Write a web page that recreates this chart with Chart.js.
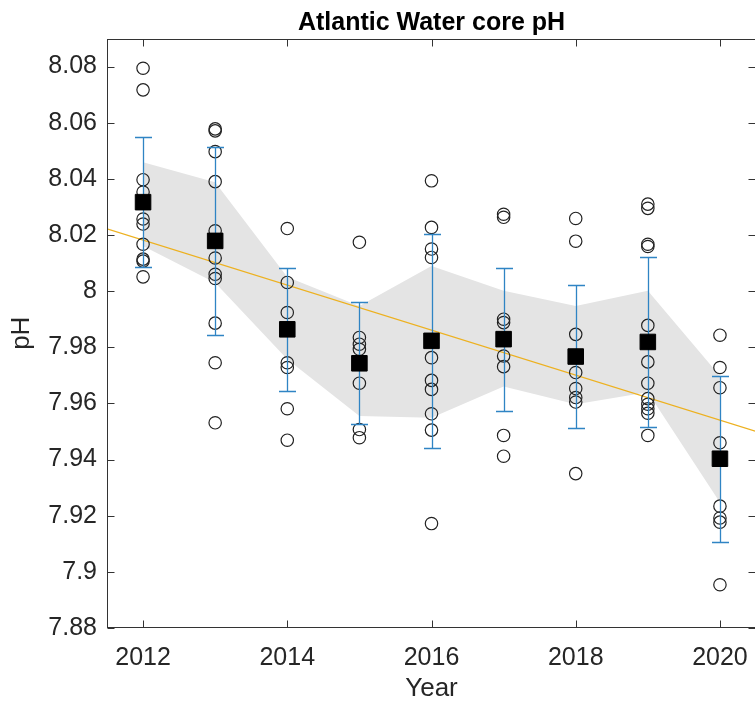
<!DOCTYPE html>
<html>
<head>
<meta charset="utf-8">
<script src="https://cdn.jsdelivr.net/npm/chart.js@4.4.1/dist/chart.umd.min.js"></script>
<style>
html, body { margin: 0; padding: 0; overflow: hidden; background: #fff; }
#wrap { width: 768px; height: 706px; position: relative; }
</style>
</head>
<body>
<div id="wrap"><canvas id="chart"></canvas></div>
<script>
// years sampled
const years = [2012, 2013, 2014, 2015, 2016, 2017, 2018, 2019, 2020];

// individual pH samples per year (open circles)
const ph2012 = [8.0794, 8.0717, 8.0397, 8.0353, 8.0257, 8.0239, 8.0167, 8.0114, 8.0107, 8.0051];
const ph2013 = [8.0578, 8.0571, 8.0497, 8.0390, 8.0215, 8.0118, 8.0060, 8.0045, 7.9886, 7.9745, 7.9531];
const ph2014 = [8.0223, 8.0031, 7.9924, 7.9745, 7.9728, 7.9581, 7.9469];
const ph2015 = [8.0174, 7.9835, 7.9811, 7.9793, 7.9672, 7.9507, 7.9478];
const ph2016 = [8.0393, 8.0227, 8.0150, 8.0120, 7.9763, 7.9682, 7.9650, 7.9563, 7.9505, 7.9172];
const ph2017 = [8.0274, 8.0263, 7.9900, 7.9888, 7.9769, 7.9731, 7.9486, 7.9412];
const ph2018 = [8.0259, 8.0178, 7.9846, 7.9710, 7.9653, 7.9621, 7.9605, 7.9350];
const ph2019 = [8.0310, 8.0295, 8.0167, 8.0159, 7.9878, 7.9748, 7.9672, 7.9617, 7.9597, 7.9581, 7.9565, 7.9486];
const ph2020 = [7.9843, 7.9728, 7.9656, 7.9460, 7.9234, 7.9192, 7.9177, 7.8954];
const samples = [ph2012, ph2013, ph2014, ph2015, ph2016, ph2017, ph2018, ph2019, ph2020];

// yearly mean and standard deviation (squares + error bars)
const meanPH = [8.0317, 8.0179, 7.9864, 7.9743, 7.9823, 7.9829, 7.9767, 7.9819, 7.9403];
const sdPH = [0.0231, 0.0335, 0.0220, 0.0218, 0.0382, 0.0255, 0.0256, 0.0304, 0.0295];

// grey shaded band
const bandUpper = [8.0459, 8.0388, 8.0050, 7.9947, 8.0090, 8.0001, 7.9947, 8.0001, 7.9698];
const bandLower = [8.0161, 8.0030, 7.9757, 7.9555, 7.9549, 7.9660, 7.9597, 7.9640, 7.9247];

// linear trend
const trendYears = [2011.5, 2020.5];
const trendPH = [8.0222, 7.9500];

const xTicks = [2012, 2014, 2016, 2018, 2020];
const yTicks = [7.88, 7.90, 7.92, 7.94, 7.96, 7.98, 8.00, 8.02, 8.04, 8.06, 8.08];

Chart.defaults.font.family = "'Liberation Sans', Arial, Helvetica, sans-serif";
Chart.defaults.color = '#262626';

const errorBars = {
    id: 'errorBars',
    afterDatasetDraw(chart, args) {
        if (args.index !== 3) return;
        const { ctx, scales: { x, y } } = chart;
        ctx.save();
        ctx.strokeStyle = '#2f84c4';
        ctx.lineWidth = 1.3;
        years.forEach((yr, i) => {
            const px = Math.round(x.getPixelForValue(yr)) + 0.5;
            const top = Math.round(y.getPixelForValue(meanPH[i] + sdPH[i])) + 0.5;
            const bot = Math.round(y.getPixelForValue(meanPH[i] - sdPH[i])) + 0.5;
            ctx.beginPath();
            ctx.moveTo(px, top); ctx.lineTo(px, bot);
            ctx.moveTo(px - 8.5, top); ctx.lineTo(px + 8.5, top);
            ctx.moveTo(px - 8.5, bot); ctx.lineTo(px + 8.5, bot);
            ctx.stroke();
        });
        ctx.restore();
    }
};

// box around the axes with inward ticks on all sides
const axesBox = {
    id: 'axesBox',
    afterDatasetsDraw(chart) {
        const { ctx, chartArea: a, scales: { x, y } } = chart;
        const L = Math.round(a.left) + 0.5, R = Math.round(a.right) - 0.5;
        const T = Math.round(a.top) + 0.5, B = Math.round(a.bottom) - 0.5;
        ctx.save();
        ctx.strokeStyle = '#333333';
        ctx.lineWidth = 1;
        ctx.strokeRect(L, T, R - L, B - T);
        ctx.beginPath();
        x.ticks.forEach(t => {
            const px = Math.round(x.getPixelForValue(t.value)) + 0.5;
            ctx.moveTo(px, B); ctx.lineTo(px, B - 7);
            ctx.moveTo(px, T); ctx.lineTo(px, T + 7);
        });
        y.ticks.forEach(t => {
            const py = Math.round(y.getPixelForValue(t.value)) + 0.5;
            ctx.moveTo(L, py); ctx.lineTo(L + 7, py);
            ctx.moveTo(R, py); ctx.lineTo(R - 7, py);
        });
        ctx.stroke();
        ctx.restore();
    }
};

const points = years.flatMap((yr, i) => samples[i].map(v => ({ x: yr, y: v })));

new Chart(document.getElementById('chart'), {
    type: 'line',
    data: {
        datasets: [
            {
                data: years.map((yr, i) => ({ x: yr, y: bandUpper[i] })),
                borderWidth: 0, pointRadius: 0, tension: 0,
                backgroundColor: '#e4e4e4', fill: 1, order: 10
            },
            {
                data: years.map((yr, i) => ({ x: yr, y: bandLower[i] })),
                borderWidth: 0, pointRadius: 0, tension: 0, fill: false, order: 9
            },
            {
                data: trendYears.map((yr, i) => ({ x: yr, y: trendPH[i] })),
                borderColor: '#EDB120', borderWidth: 1.2, pointRadius: 0, fill: false, order: 8
            },
            {
                data: points,
                showLine: false, pointStyle: 'circle', pointRadius: 6.2,
                borderColor: '#222222', borderWidth: 1.2, backgroundColor: 'rgba(0,0,0,0)', order: 7
            },
            {
                data: years.map((yr, i) => ({ x: yr, y: meanPH[i] })),
                showLine: false, pointStyle: 'rect', pointRadius: 11,
                borderColor: '#000', borderWidth: 1, backgroundColor: '#000', order: 1
            }
        ]
    },
    options: {
        responsive: true,
        maintainAspectRatio: false,
        animation: false,
        layout: { padding: { left: 0, right: 7, top: 0, bottom: 0 } },
        plugins: {
            legend: { display: false },
            tooltip: { enabled: false },
            title: {
                display: true,
                text: 'Atlantic Water core pH',
                fullSize: false,
                color: '#000',
                font: { size: 25, weight: 'bold' },
                padding: { top: 8.5, bottom: 0 }
            }
        },
        scales: {
            x: {
                type: 'linear',
                min: 2011.5,
                max: 2020.5,
                afterBuildTicks: scale => { scale.ticks = xTicks.map(v => ({ value: v })); },
                afterFit: scale => { scale.height = 78; },
                grid: { display: false, drawTicks: false },
                border: { display: false },
                ticks: { font: { size: 25 }, padding: 15, maxRotation: 0, callback: v => String(v) },
                title: { display: true, text: 'Year', font: { size: 26 }, padding: { top: 0, bottom: 2 } }
            },
            y: {
                min: 7.88,
                max: 8.09,
                afterBuildTicks: scale => { scale.ticks = yTicks.map(v => ({ value: v })); },
                afterFit: scale => { scale.width = 107; },
                grid: { display: false, drawTicks: false },
                border: { display: false },
                ticks: { font: { size: 25 }, padding: 10, callback: v => String(Number(v.toFixed(2))) },
                title: { display: true, text: 'pH', font: { size: 26 }, padding: { top: 6, bottom: 0 } }
            }
        }
    },
    plugins: [errorBars, axesBox]
});
</script>
</body>
</html>
